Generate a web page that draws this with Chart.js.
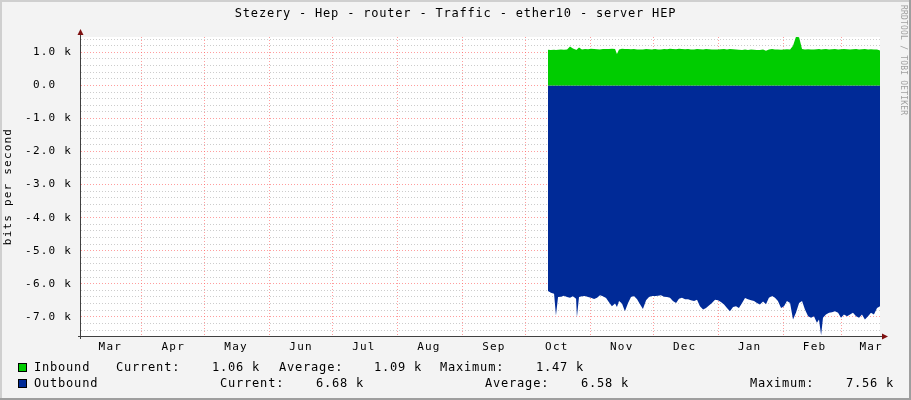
<!DOCTYPE html>
<html>
<head>
<meta charset="utf-8">
<script src="https://cdn.jsdelivr.net/npm/chart.js@4/dist/chart.umd.min.js"></script>
<style>
  html, body { margin: 0; padding: 0; background: #f3f3f3; }
  #wrap { width: 911px; height: 400px; }
</style>
</head>
<body>
<div id="wrap"><canvas id="graph" width="911" height="400"></canvas></div>
<script>
// texts
const graphTitle = "Stezery - Hep - router - Traffic - ether10 - server HEP";
const yTitle = "bits per second";
const credit = "RRDTOOL / TOBI OETIKER";

// x axis is in days counted from the left edge of the graph (about 3 Mar)
const xEnd = 381.2;
const monthStarts = [29, 59, 90, 120, 151, 182, 212, 243, 273, 304, 335, 363];
const monthLabelDays = [14, 44, 74, 105, 135, 166, 197, 227, 258, 288, 319, 350, 377];
const monthLabels = ["Mar", "Apr", "May", "Jun", "Jul", "Aug", "Sep", "Oct", "Nov", "Dec", "Jan", "Feb", "Mar"];

// y axis (bits per second)
const yMin = -7580;
const yMax = 1465;
const yMajorStep = 1000;
const yMinorStep = 200;

// samples
const days = [
  222.8, 224.2, 225.7, 226.6, 227.6, 229.0, 230.4, 231.9, 233.3, 234.7,
  236.2, 236.6, 237.6, 239.0, 240.5, 241.9, 243.3, 244.8, 246.2, 247.6,
  249.0, 250.5, 251.9, 253.3, 254.8, 255.7, 256.7, 258.1, 259.5, 261.0,
  262.4, 263.8, 265.3, 266.7, 268.1, 269.6, 271.0, 272.4, 273.9, 275.3,
  276.7, 278.2, 279.6, 281.0, 282.4, 283.9, 285.3, 286.7, 288.2, 289.6,
  291.0, 292.5, 293.9, 295.3, 296.8, 298.2, 299.6, 301.0, 302.5, 303.9,
  305.3, 306.8, 308.2, 309.6, 311.1, 312.5, 313.9, 315.4, 316.8, 318.2,
  319.7, 321.1, 322.5, 323.9, 325.4, 326.8, 328.2, 329.7, 331.1, 332.5,
  334.0, 335.4, 336.8, 338.3, 339.7, 341.1, 342.6, 344.0, 345.4, 346.9,
  348.3, 349.7, 351.1, 352.1, 353.1, 354.0, 355.4, 356.9, 358.3, 359.7,
  361.2, 362.6, 364.0, 365.5, 366.9, 368.3, 369.8, 371.2, 372.6, 374.0,
  375.5, 376.9, 378.3, 379.8, 381.2
];

const inbound = [
  1080, 1070, 1080, 1075, 1080, 1085, 1080, 1090, 1180, 1120,
  1080, 1085, 1150, 1090, 1100, 1095, 1110, 1100, 1095, 1090,
  1100, 1105, 1100, 1110, 1100, 950, 1090, 1110, 1100, 1105,
  1095, 1100, 1090, 1085, 1090, 1100, 1095, 1090, 1100, 1090,
  1085, 1100, 1095, 1110, 1100, 1095, 1110, 1100, 1095, 1105,
  1090, 1085, 1100, 1095, 1090, 1100, 1095, 1085, 1090, 1090,
  1095, 1100, 1090, 1100, 1095, 1090, 1080, 1070, 1085, 1075,
  1090, 1080, 1075, 1070, 1090, 1050, 1090, 1100, 1090, 1085,
  1080, 1090, 1095, 1090, 1200, 1470, 1460, 1100, 1090, 1095,
  1090, 1085, 1095, 1100, 1090, 1095, 1100, 1090, 1095, 1100,
  1090, 1095, 1100, 1095, 1090, 1095, 1100, 1090, 1095, 1100,
  1090, 1095, 1090, 1085, 1060
];

const outbound = [
  -6220, -6270, -6300, -6960, -6400, -6390, -6360, -6400, -6420, -6380,
  -6450, -7010, -6400, -6380, -6370, -6400, -6420, -6460, -6420, -6350,
  -6380, -6430, -6560, -6680, -6600, -6700, -6520, -6600, -6830, -6580,
  -6400, -6370, -6470, -6620, -6760, -6500, -6400, -6370, -6370, -6360,
  -6350, -6390, -6400, -6420, -6520, -6580, -6450, -6420, -6470, -6470,
  -6500, -6520, -6480, -6680, -6780, -6730, -6660, -6580, -6480, -6500,
  -6550, -6630, -6730, -6830, -6700, -6680, -6730, -6580, -6430, -6470,
  -6500, -6520, -6580, -6630, -6540, -6620, -6420, -6370, -6420, -6520,
  -6730, -6680, -6520, -6580, -7080, -6880, -6580, -6520, -6780, -6980,
  -7030, -6980, -7180, -7080, -7560, -7030, -6930, -6880, -6860, -6830,
  -6880, -7030, -6930, -6980, -6930, -6880, -6980, -7030, -6930, -7080,
  -6980, -6880, -6930, -6730, -6680
];

// legend
const seriesNames = ["Inbound", "Outbound"];
const seriesColors = ["#00cc00", "#002a97"];
const currentText = ["1.06 k", "6.68 k"];
const averageText = ["1.09 k", "6.58 k"];
const maximumText = ["1.47 k", "7.56 k"];

const MONO = "'DejaVu Sans Mono', monospace";
const majorGrid = "rgba(255, 92, 92, 0.6)";
const minorGrid = "rgba(170, 170, 170, 0.6)";

// where each legend piece starts, per row
const legendRows = [
  { y: 368, name: 34, cur: 116, curVal: 212, avg: 279, avgVal: 374, max: 440, maxVal: 536 },
  { y: 384, name: 34, cur: 220, curVal: 316, avg: 485, avgVal: 581, max: 750, maxVal: 846 }
];

function fmtY(v) {
  if (v % yMajorStep !== 0) return "";
  if (v === 0) return "0.0  ";
  return (v / 1000).toFixed(1) + " k";
}

const rrdLook = {
  id: "rrdLook",
  beforeDraw(chart) {
    const { ctx, chartArea: a } = chart;
    ctx.save();
    ctx.fillStyle = "#f3f3f3";
    ctx.fillRect(0, 0, chart.width, chart.height);
    ctx.fillStyle = "#ffffff";
    ctx.fillRect(a.left, a.top, a.right - a.left, a.bottom - a.top);
    ctx.restore();
    // rrdtool spreads its mono glyphs a little
    ctx.letterSpacing = "1.2px";
  },
  afterDraw(chart) {
    const { ctx, chartArea: a } = chart;
    ctx.save();

    // axes + arrows
    ctx.strokeStyle = "#404040";
    ctx.lineWidth = 1;
    ctx.beginPath();
    ctx.moveTo(a.left - 0.5, a.bottom + 3);
    ctx.lineTo(a.left - 0.5, a.top - 4);
    ctx.moveTo(a.left - 3, a.bottom + 0.5);
    ctx.lineTo(a.right + 4, a.bottom + 0.5);
    ctx.stroke();
    ctx.fillStyle = "#7f1010";
    ctx.beginPath();
    ctx.moveTo(a.left - 0.5, a.top - 8);
    ctx.lineTo(a.left - 3.5, a.top - 2);
    ctx.lineTo(a.left + 2.5, a.top - 2);
    ctx.fill();
    ctx.beginPath();
    ctx.moveTo(a.right + 8, a.bottom + 0.5);
    ctx.lineTo(a.right + 2, a.bottom - 2.5);
    ctx.lineTo(a.right + 2, a.bottom + 3.5);
    ctx.fill();

    // title
    ctx.fillStyle = "#000";
    ctx.font = "12px " + MONO;
    ctx.letterSpacing = "0.8px";
    ctx.textAlign = "center";
    ctx.textBaseline = "middle";
    ctx.fillText(graphTitle, 455.5, 14);

    // legend
    ctx.textAlign = "left";
    legendRows.forEach((r, i) => {
      ctx.fillStyle = seriesColors[i];
      ctx.fillRect(18, r.y - 5, 9, 9);
      ctx.strokeStyle = "#000";
      ctx.strokeRect(18.5, r.y - 4.5, 8, 8);
      ctx.fillStyle = "#000";
      ctx.fillText(seriesNames[i], r.name, r.y);
      ctx.fillText("Current:", r.cur, r.y);
      ctx.fillText(currentText[i], r.curVal, r.y);
      ctx.fillText("Average:", r.avg, r.y);
      ctx.fillText(averageText[i], r.avgVal, r.y);
      ctx.fillText("Maximum:", r.max, r.y);
      ctx.fillText(maximumText[i], r.maxVal, r.y);
    });

    // side credit
    ctx.save();
    ctx.translate(903, 5);
    ctx.rotate(Math.PI / 2);
    ctx.font = "8px " + MONO;
    ctx.letterSpacing = "0.2px";
    ctx.fillStyle = "#a0a0a0";
    ctx.textBaseline = "middle";
    ctx.fillText(credit, 0, 0);
    ctx.restore();

    // 3d frame
    ctx.fillStyle = "#cfcfcf";
    ctx.fillRect(0, 0, chart.width, 2);
    ctx.fillRect(0, 0, 2, chart.height);
    ctx.fillStyle = "#9e9e9e";
    ctx.fillRect(chart.width - 2, 0, 2, chart.height);
    ctx.fillRect(0, chart.height - 2, chart.width, 2);

    ctx.restore();
  }
};

new Chart(document.getElementById("graph"), {
  type: "line",
  data: {
    datasets: [
      {
        label: seriesNames[0],
        data: days.map((d, i) => ({ x: d, y: inbound[i] })),
        backgroundColor: seriesColors[0],
        borderWidth: 0,
        pointRadius: 0,
        fill: "origin"
      },
      {
        label: seriesNames[1],
        data: days.map((d, i) => ({ x: d, y: outbound[i] })),
        backgroundColor: seriesColors[1],
        borderWidth: 0,
        pointRadius: 0,
        fill: "origin"
      }
    ]
  },
  options: {
    responsive: false,
    animation: false,
    layout: { padding: { top: 37, right: 31, bottom: 44, left: 0 } },
    plugins: {
      legend: { display: false },
      tooltip: { enabled: false }
    },
    scales: {
      x: {
        type: "linear",
        min: 0,
        max: xEnd,
        z: 1,
        afterBuildTicks: s => {
          s.ticks = monthStarts.concat(monthLabelDays)
            .sort((p, q) => p - q)
            .map(v => ({ value: v }));
        },
        afterFit: s => { s.height = 20; },
        grid: {
          color: c => (c.tick && monthStarts.includes(c.tick.value)) ? majorGrid : "rgba(0,0,0,0)",
          drawTicks: false
        },
        border: { display: false, dash: [1, 2] },
        ticks: {
          callback: v => {
            const i = monthLabelDays.indexOf(v);
            return i >= 0 ? monthLabels[i] : "";
          },
          autoSkip: false,
          maxRotation: 0,
          padding: 5,
          color: "#000",
          font: { family: MONO, size: 11 }
        }
      },
      y: {
        min: yMin,
        max: yMax,
        z: 1,
        afterBuildTicks: s => {
          const t = [];
          for (let v = Math.ceil(yMin / yMinorStep) * yMinorStep; v < yMax; v += yMinorStep) t.push({ value: v });
          s.ticks = t;
        },
        afterFit: s => { s.width = 81; },
        grid: {
          color: c => (c.tick && c.tick.value % yMajorStep === 0) ? majorGrid : minorGrid,
          drawTicks: false
        },
        border: { display: false, dash: [1, 2] },
        ticks: {
          callback: fmtY,
          autoSkip: false,
          padding: 9,
          color: "#000",
          font: { family: MONO, size: 11 }
        },
        title: {
          display: true,
          text: yTitle,
          color: "#000",
          padding: { top: 2, bottom: 0 },
          font: { family: MONO, size: 11 }
        }
      }
    }
  },
  plugins: [rrdLook]
});
</script>
</body>
</html>
